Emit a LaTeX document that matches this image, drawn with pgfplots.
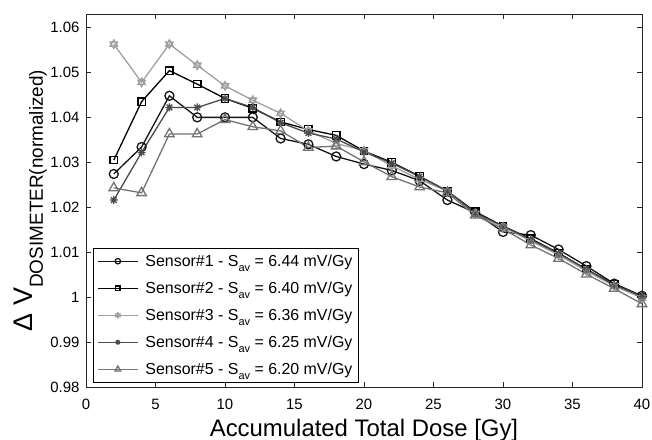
\documentclass[border=0pt]{standalone}
\usepackage{fontspec}
\setmainfont{Liberation Sans}
\usepackage{pgfplots}
\pgfplotsset{compat=1.18}
\usetikzlibrary{plotmarks}
\definecolor{sone}{RGB}{20,20,20}
\definecolor{stwo}{RGB}{0,0,0}
\definecolor{sthree}{RGB}{160,160,160}
\definecolor{sfour}{RGB}{75,75,75}
\definecolor{sfive}{RGB}{115,115,115}

\pgfdeclareplotmark{hexagram}{%
  \pgfpathmoveto{\pgfqpointpolar{90}{\pgfplotmarksize}}%
  \pgfpathlineto{\pgfqpointpolar{210}{\pgfplotmarksize}}%
  \pgfpathlineto{\pgfqpointpolar{330}{\pgfplotmarksize}}%
  \pgfpathclose
  \pgfpathmoveto{\pgfqpointpolar{270}{\pgfplotmarksize}}%
  \pgfpathlineto{\pgfqpointpolar{30}{\pgfplotmarksize}}%
  \pgfpathlineto{\pgfqpointpolar{150}{\pgfplotmarksize}}%
  \pgfpathclose
  \pgfusepathqstroke}
\pgfdeclareplotmark{mstar}{%
  \pgfpathmoveto{\pgfqpointpolar{0}{\pgfplotmarksize}}\pgfpathlineto{\pgfqpointpolar{180}{\pgfplotmarksize}}%
  \pgfpathmoveto{\pgfqpointpolar{90}{\pgfplotmarksize}}\pgfpathlineto{\pgfqpointpolar{270}{\pgfplotmarksize}}%
  \pgfpathmoveto{\pgfqpointpolar{45}{\pgfplotmarksize}}\pgfpathlineto{\pgfqpointpolar{225}{\pgfplotmarksize}}%
  \pgfpathmoveto{\pgfqpointpolar{135}{\pgfplotmarksize}}\pgfpathlineto{\pgfqpointpolar{315}{\pgfplotmarksize}}%
  \pgfusepathqstroke}

\newcommand{\sav}{S\raisebox{-0.35em}{\fontsize{11}{12}\selectfont av}}

\begin{document}
\begin{tikzpicture}
\begin{axis}[
  scale only axis, width=556bp, height=373bp,
  xmin=0, xmax=40, ymin=0.98, ymax=1.063,
  xtick={0,5,10,15,20,25,30,35,40},
  ytick={0.98,0.99,1,1.01,1.02,1.03,1.04,1.05,1.06},
  scaled y ticks=false,
  tick align=inside, tick pos=both, major tick length=5bp,
  axis line style={black!85, line width=0.6bp},
  every tick/.style={black!85, line width=0.6bp},
  /pgf/number format/assume math mode=true,
  ticklabel style={font=\fontsize{15}{18}\selectfont},
  yticklabel style={/pgf/number format/fixed, /pgf/number format/precision=2, xshift=-3bp},
  xticklabel style={yshift=-9bp},
  xlabel={Accumulated Total Dose [Gy]},
  xlabel style={font=\fontsize{24}{28}\selectfont, at={(axis description cs:0.5,-0.1314)}, anchor=base},
  ylabel={Δ V\raisebox{-0.4em}{\fontsize{19}{22}\selectfont DOSIMETER(normalized)}},
  ylabel style={font=\fontsize{27}{30}\selectfont, at={(axis description cs:-0.0971,0.5)}, anchor=base},
  legend cell align=left,
  legend style={at={(axis description cs:0.0126,0.0134)}, anchor=south west, draw=black, fill=white,
    font=\fontsize{16}{18}\selectfont, row sep=10bp, inner xsep=4bp, inner ysep=4bp,
    /tikz/every odd column/.append style={column sep=5bp}},
  legend image code/.code={%
    \draw[mark repeat=2,mark phase=2,/tikz/every mark/.append style={scale=0.6}] plot coordinates {(0bp,0bp) (20bp,0bp) (40bp,0bp)};},
  every axis plot/.append style={line width=1.3bp},
]
\addplot[color=sone, mark=o, mark size=4.5bp, mark options={solid}] coordinates {
(2,1.0274)(4,1.0334)(6,1.0448)(8,1.0400)(10,1.0400)(12,1.0400)(14,1.0353)(16,1.0340)(18,1.0313)(20,1.0296)
(22,1.0282)(24,1.0259)(26,1.0216)(28,1.0188)(30,1.0145)(32,1.0138)(34,1.0106)(36,1.0069)(38,1.0030)(40,1.0003)};
\addlegendentry{Sensor\#1 - \sav{} = 6.44 mV/Gy}
\addplot[color=stwo, mark=square, mark size=3.7bp, mark options={solid}] coordinates {
(2,1.0305)(4,1.0435)(6,1.0504)(8,1.0474)(10,1.0442)(12,1.0420)(14,1.0390)(16,1.0373)(18,1.0360)(20,1.0325)
(22,1.0300)(24,1.0269)(26,1.0236)(28,1.0190)(30,1.0158)(32,1.0130)(34,1.0098)(36,1.0062)(38,1.0028)(40,1.0000)};
\addlegendentry{Sensor\#2 - \sav{} = 6.40 mV/Gy}
\addplot[color=sthree, mark=hexagram, mark size=4.3bp, mark options={solid}] coordinates {
(2,1.0563)(4,1.0478)(6,1.0563)(8,1.0516)(10,1.0470)(12,1.0438)(14,1.0409)(16,1.0370)(18,1.0342)(20,1.0326)
(22,1.0292)(24,1.0262)(26,1.0236)(28,1.0186)(30,1.0156)(32,1.0125)(34,1.0094)(36,1.0058)(38,1.0025)(40,0.9998)};
\addlegendentry{Sensor\#3 - \sav{} = 6.36 mV/Gy}
\addplot[color=sfour, mark=mstar, mark size=4bp, mark options={solid}] coordinates {
(2,1.0216)(4,1.0322)(6,1.0422)(8,1.0422)(10,1.0442)(12,1.0422)(14,1.0388)(16,1.0365)(18,1.0352)(20,1.0323)
(22,1.0298)(24,1.0268)(26,1.0236)(28,1.0187)(30,1.0158)(32,1.0128)(34,1.0097)(36,1.0062)(38,1.0027)(40,1.0002)};
\addlegendentry{Sensor\#4 - \sav{} = 6.25 mV/Gy}
\addplot[color=sfive, mark=triangle, mark size=5.5bp, mark options={solid}] coordinates {
(2,1.0243)(4,1.0232)(6,1.0363)(8,1.0363)(10,1.0395)(12,1.0379)(14,1.0370)(16,1.0333)(18,1.0336)(20,1.0301)
(22,1.0268)(24,1.0245)(26,1.0232)(28,1.0182)(30,1.0152)(32,1.0116)(34,1.0086)(36,1.0051)(38,1.0019)(40,0.9985)};
\addlegendentry{Sensor\#5 - \sav{} = 6.20 mV/Gy}
\end{axis}
\pgfresetboundingbox
\useasboundingbox ([shift={(-86bp,-53bp)}]current axis.south west) rectangle ([shift={(10bp,14bp)}]current axis.north east);
\end{tikzpicture}
\end{document}
